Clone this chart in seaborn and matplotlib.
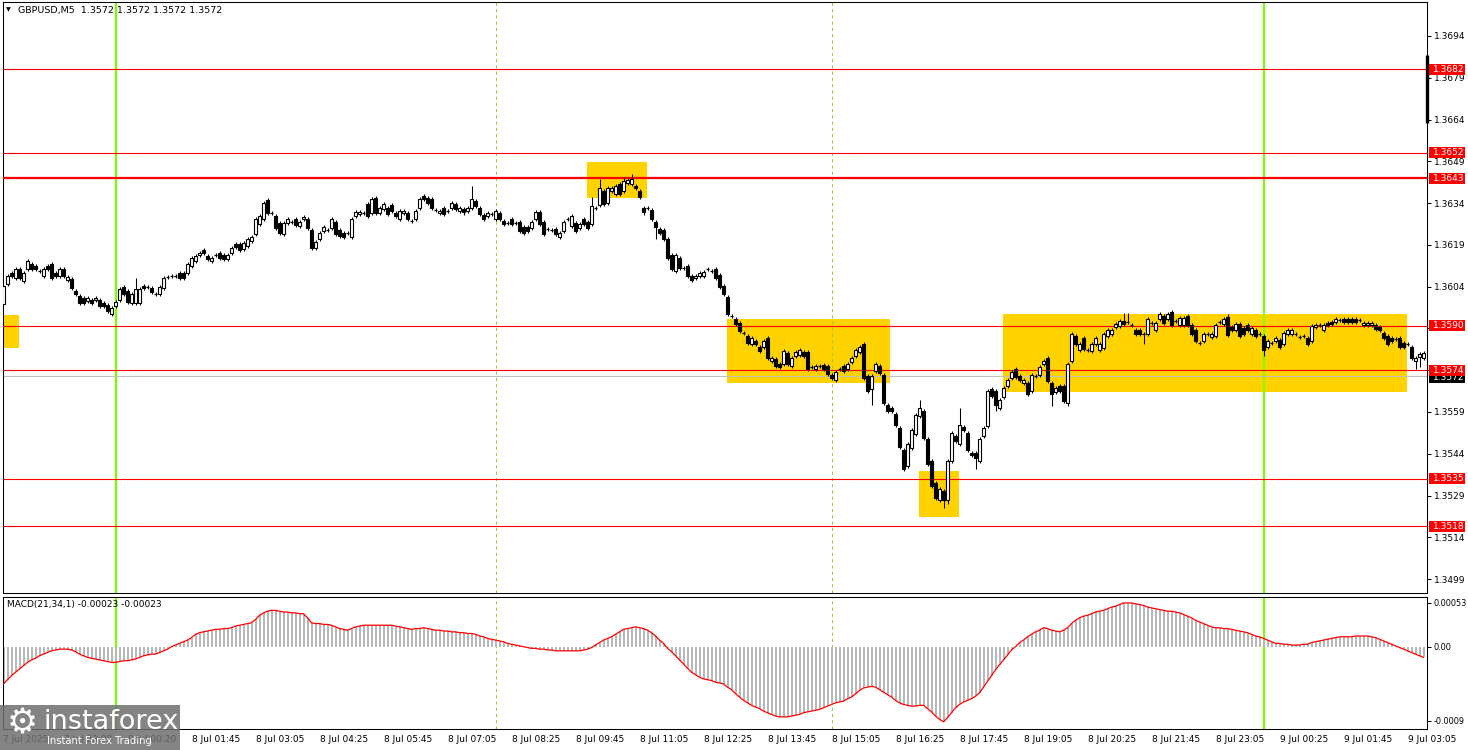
import numpy as np
import matplotlib
matplotlib.use("Agg")
import matplotlib.pyplot as plt
import seaborn as sns
from matplotlib.patches import Rectangle
from matplotlib.transforms import blended_transform_factory

# ---------------- data (prices in pips above 1.3500) ----------------
open_pips = [
    97.7, 104.9, 108.9, 107.1, 110.3, 106.0, 110.3, 112.1, 111.4, 109.6,
    107.8, 111.4, 112.1, 108.9, 107.8, 110.3, 106.3, 106.7, 102.4, 100.6,
    99.9, 98.8, 99.2, 99.2, 99.2, 98.1, 97.4, 94.1, 97.0, 99.2,
    103.8, 102.4, 98.1, 98.1, 98.1, 104.2, 103.8, 103.5, 101.3, 101.3,
    103.5, 107.4, 107.8, 107.8, 108.9, 108.9, 108.9, 111.4, 113.2, 115.3,
    117.1, 115.0, 113.2, 115.3, 116.0, 115.3, 113.9, 116.0, 119.3, 119.3,
    117.5, 118.5, 120.3, 122.9, 126.4, 128.2, 135.1, 130.4, 129.3, 126.8,
    122.9, 126.8, 127.2, 128.2, 125.7, 128.2, 128.2, 124.3, 117.8, 121.1,
    123.9, 124.3, 125.0, 127.2, 124.3, 123.2, 123.2, 121.8, 129.3, 130.0,
    130.4, 133.6, 130.4, 135.8, 130.4, 131.8, 132.2, 133.3, 130.4, 128.2,
    130.4, 130.4, 127.5, 128.2, 132.2, 136.5, 135.8, 135.4, 131.5, 130.4,
    132.2, 131.1, 132.2, 133.6, 131.1, 131.8, 131.1, 132.2, 134.7, 132.2,
    129.7, 129.3, 130.0, 128.2, 130.4, 127.5, 126.8, 128.2, 126.8, 127.2,
    125.4, 125.4, 125.0, 128.2, 130.7, 127.2, 124.6, 124.3, 124.6, 121.8,
    123.9, 128.2, 125.7, 126.8, 125.0, 128.2, 127.2, 126.4, 132.2, 133.3,
    138.3, 134.0, 138.3, 137.2, 140.8, 138.3, 141.2, 140.8, 140.1, 138.3,
    132.2, 132.2, 131.5, 127.2, 124.6, 124.3, 121.1, 115.3, 109.6, 114.2,
    110.6, 111.4, 107.8, 107.1, 107.8, 107.8, 110.3, 109.6, 110.3, 108.2,
    104.2, 100.2, 93.4, 92.3, 90.9, 87.3, 86.2, 83.4, 84.4, 82.3,
    82.3, 85.5, 77.3, 78.0, 76.2, 76.2, 80.1, 75.5, 79.1, 79.4,
    80.5, 80.5, 75.1, 74.4, 75.5, 75.8, 75.5, 72.2, 70.4, 74.4,
    75.5, 74.4, 76.9, 79.1, 80.5, 83.4, 71.9, 67.2, 73.7, 75.5,
    72.2, 61.5, 60.4, 58.2, 53.2, 45.3, 39.6, 46.0, 51.1, 57.5,
    59.3, 49.2, 41.4, 33.5, 27.4, 30.6, 27.4, 41.4, 50.3, 47.5,
    53.6, 51.4, 44.2, 44.2, 41.4, 50.3, 53.9, 67.2, 66.5, 60.4,
    64.3, 68.3, 71.2, 74.4, 71.9, 69.4, 69.4, 66.5, 71.9, 72.2,
    76.2, 78.3, 69.4, 66.1, 68.3, 68.3, 62.2, 77.3, 86.2, 81.2,
    85.5, 81.2, 80.9, 83.4, 81.2, 81.9, 86.2, 87.0, 89.5, 89.8,
    91.6, 91.3, 90.2, 88.4, 88.4, 87.0, 87.0, 90.9, 88.4, 92.3,
    93.4, 92.3, 94.8, 91.6, 90.2, 90.2, 93.4, 90.2, 88.4, 83.7,
    84.4, 87.0, 85.9, 86.2, 91.3, 90.5, 93.1, 89.5, 88.4, 90.5,
    89.1, 90.2, 87.0, 88.4, 87.0, 86.2, 82.3, 83.7, 84.4, 84.8,
    83.4, 87.0, 87.0, 87.0, 85.9, 86.2, 85.5, 84.4, 89.5, 90.2,
    88.4, 90.9, 91.3, 91.3, 92.0, 92.3, 92.3, 92.3, 92.3, 92.0,
    90.2, 90.2, 90.2, 90.2, 89.5, 87.3, 86.2, 85.5, 85.2, 85.5,
    83.7, 83.4, 82.3, 77.3, 78.7, 78.3,
]
close_pips = [
    104.2, 107.8, 107.8, 110.3, 107.1, 108.9, 113.2, 110.3, 110.3, 109.6,
    110.3, 110.3, 107.1, 107.8, 110.3, 107.8, 107.4, 103.5, 101.3, 98.1,
    98.1, 99.9, 98.1, 99.9, 97.0, 97.0, 95.2, 96.3, 98.4, 103.1,
    101.3, 98.4, 101.3, 103.1, 103.1, 103.5, 103.8, 102.0, 101.3, 103.8,
    107.1, 107.4, 107.8, 107.8, 107.1, 107.1, 112.1, 114.2, 115.0, 116.0,
    116.0, 113.9, 114.2, 115.3, 114.2, 113.9, 115.3, 117.8, 118.2, 117.1,
    119.6, 121.1, 121.8, 128.2, 129.3, 134.0, 130.4, 130.4, 125.0, 123.2,
    126.8, 128.2, 127.2, 126.1, 127.2, 128.9, 125.0, 117.8, 120.0, 123.2,
    125.4, 124.3, 128.2, 122.9, 122.1, 121.8, 123.2, 128.2, 130.7, 130.7,
    130.4, 129.3, 135.4, 130.4, 132.2, 133.6, 130.0, 131.1, 129.3, 131.1,
    131.1, 128.2, 127.5, 131.1, 135.4, 135.4, 134.0, 132.2, 131.5, 131.1,
    130.0, 131.1, 134.0, 131.8, 132.2, 130.7, 132.2, 135.4, 132.9, 130.0,
    128.2, 130.4, 130.0, 131.1, 128.2, 126.4, 126.8, 126.4, 126.8, 123.9,
    123.2, 123.9, 127.2, 130.7, 126.4, 122.9, 124.6, 124.3, 122.9, 123.2,
    127.2, 128.2, 129.3, 123.9, 126.4, 126.4, 125.0, 132.9, 132.2, 139.4,
    133.6, 139.4, 139.4, 140.1, 137.2, 141.9, 142.3, 142.6, 139.4, 136.1,
    130.7, 132.2, 128.2, 125.4, 123.2, 121.1, 114.2, 110.3, 115.3, 110.6,
    110.6, 107.8, 106.3, 107.8, 108.9, 109.2, 110.3, 109.6, 107.1, 103.8,
    101.3, 94.1, 93.4, 90.5, 88.0, 87.3, 83.7, 85.5, 83.4, 80.9,
    84.4, 78.3, 78.3, 75.5, 75.1, 80.9, 76.2, 78.3, 80.5, 81.2,
    79.1, 74.4, 75.1, 75.5, 75.5, 74.4, 72.6, 71.2, 73.3, 74.4,
    73.7, 76.2, 78.3, 81.2, 82.3, 71.2, 66.5, 71.9, 76.2, 73.0,
    62.2, 59.3, 59.3, 54.3, 46.4, 38.5, 47.5, 52.5, 57.9, 60.4,
    49.6, 40.3, 32.4, 28.1, 31.3, 27.4, 41.4, 51.4, 48.5, 54.3,
    52.5, 45.3, 43.5, 42.4, 49.2, 53.2, 66.5, 64.7, 61.5, 63.3,
    67.6, 70.4, 73.3, 71.5, 70.4, 70.4, 65.4, 72.2, 71.9, 75.1,
    77.3, 70.1, 65.4, 67.6, 66.5, 62.9, 76.2, 87.0, 83.4, 83.4,
    81.6, 81.2, 83.4, 85.5, 83.4, 87.0, 88.4, 88.4, 90.5, 91.6,
    90.5, 91.3, 90.2, 87.0, 87.0, 87.0, 92.3, 90.9, 90.9, 94.1,
    90.9, 94.1, 90.2, 91.6, 92.7, 92.7, 90.2, 87.0, 84.4, 83.7,
    87.0, 87.0, 87.0, 90.2, 91.3, 92.3, 86.6, 88.4, 90.5, 86.2,
    87.0, 88.4, 89.1, 86.2, 87.0, 81.2, 84.4, 83.7, 85.5, 82.3,
    87.3, 88.4, 88.4, 87.0, 85.9, 86.2, 83.4, 89.8, 90.2, 90.2,
    90.2, 90.2, 90.5, 92.3, 92.0, 91.3, 91.3, 91.3, 91.3, 92.0,
    90.9, 90.9, 90.9, 88.8, 88.4, 85.5, 83.4, 84.4, 85.2, 82.3,
    82.3, 83.4, 78.3, 78.3, 79.8, 80.1,
]
# long wicks (pips above 1.3500), candle index -> extreme
wick_high_pips = {33: 107.1, 117: 140.1, 147: 136.1, 149: 142.6, 155: 143.5,
                  157: 144.4, 229: 63.3, 239: 60.4, 280: 94.5, 281: 94.5, 306: 94.1}
wick_low_pips = {163: 121.1, 217: 61.5, 235: 24.5, 236: 25.9, 243: 38.5, 248: 59.3,
                 262: 61.2, 266: 61.2, 285: 83.4, 315: 79.1, 353: 74.4, 354: 75.1}

# MACD(21,34,1) main values, in units of 1e-5
macd_e5 = [
    -45, -40, -35, -31, -27, -23, -19, -16, -14, -11,
    -9, -7, -5, -4, -3, -3, -3, -4, -6, -9,
    -11, -13, -14, -15, -16, -17, -18, -19, -19, -18,
    -17, -17, -16, -15, -13, -11, -10, -9, -9, -7,
    -5, -3, 0, 2, 4, 6, 8, 11, 15, 17,
    18, 19, 20, 21, 21, 22, 22, 23, 25, 26,
    27, 28, 29, 33, 38, 41, 43, 44, 44, 43,
    42, 42, 41, 41, 40, 40, 35, 29, 28, 28,
    27, 27, 26, 24, 22, 21, 20, 22, 24, 25,
    26, 26, 26, 26, 26, 26, 26, 26, 25, 24,
    23, 22, 21, 22, 22, 23, 22, 21, 20, 20,
    19, 19, 18, 18, 17, 17, 16, 16, 15, 13,
    12, 10, 9, 8, 7, 6, 4, 3, 2, 1,
    0, -1, -2, -2, -3, -3, -4, -4, -5, -5,
    -5, -5, -5, -5, -5, -4, -3, -1, 2, 5,
    8, 10, 12, 15, 18, 21, 22, 23, 24, 23,
    22, 20, 17, 13, 8, 4, -2, -6, -11, -16,
    -21, -26, -31, -34, -37, -39, -40, -41, -43, -44,
    -45, -49, -52, -57, -61, -65, -68, -71, -73, -75,
    -78, -80, -82, -84, -85, -85, -85, -84, -83, -82,
    -80, -79, -78, -77, -76, -74, -72, -70, -68, -67,
    -66, -63, -61, -57, -53, -50, -49, -48, -49, -52,
    -55, -58, -61, -65, -68, -70, -71, -72, -72, -71,
    -71, -75, -79, -84, -88, -91, -86, -80, -74, -70,
    -67, -65, -63, -60, -56, -49, -42, -35, -28, -22,
    -16, -10, -4, 0, 5, 8, 12, 15, 18, 20,
    23, 22, 20, 19, 18, 20, 23, 28, 32, 35,
    37, 38, 40, 42, 43, 44, 46, 48, 49, 51,
    53, 53, 53, 52, 51, 50, 48, 47, 46, 45,
    44, 43, 43, 42, 41, 39, 37, 35, 32, 30,
    28, 26, 24, 23, 23, 22, 22, 21, 20, 19,
    18, 17, 15, 13, 12, 10, 8, 6, 4, 4,
    3, 3, 2, 2, 2, 3, 3, 5, 6, 7,
    8, 9, 10, 11, 12, 12, 12, 12, 13, 13,
    13, 13, 12, 11, 9, 7, 5, 3, 1, -1,
    -3, -5, -7, -9, -11, -13,
]

levels = [1.3682, 1.3652, 1.3643, 1.3590, 1.3574, 1.3535, 1.3518]
bid_price = 1.3572
price_ticks = [1.3694, 1.3679, 1.3664, 1.3649, 1.3634, 1.3619, 1.3604, 1.3589,
               1.3574, 1.3559, 1.3544, 1.3529, 1.3514, 1.3499]
hidden_ticks = [1.3589, 1.3574]   # covered by the level labels
macd_ticks = [0.00053, 0.0, -0.0009]
macd_tick_labels = ["0.00053", "0.00", "-0.0009"]
# yellow zones: (first candle, last candle, low price, high price)
zones = [(-0.9, 3.9, 1.35819, 1.35938), (145.9, 160.9, 1.36358, 1.36487),
         (180.9, 221.6, 1.35694, 1.35923), (228.9, 238.9, 1.35213, 1.35378),
         (249.9, 350.9, 1.35661, 1.35941)]
green_lines = [28, 315]
dashed_lines = [123, 207]
range_bar = (1.36629, 1.36872)
time_ticks = [0, 15, 31] + [47 + 16 * i for i in range(20)]
time_labels = ["7 Jul 2025", "7 Jul 23:00", "8 Jul 00:20", "8 Jul 01:45", "8 Jul 03:05",
               "8 Jul 04:25", "8 Jul 05:45", "8 Jul 07:05", "8 Jul 08:25", "8 Jul 09:45",
               "8 Jul 11:05", "8 Jul 12:25", "8 Jul 13:45", "8 Jul 15:05", "8 Jul 16:25",
               "8 Jul 17:45", "8 Jul 19:05", "8 Jul 20:25", "8 Jul 21:45", "8 Jul 23:05",
               "9 Jul 00:25", "9 Jul 01:45", "9 Jul 03:05"]

opens = 1.35 + np.array(open_pips) / 1e4
closes = 1.35 + np.array(close_pips) / 1e4
macd = np.array(macd_e5) * 1e-5
n = len(opens)
assert len(closes) == n and len(macd) == n, (len(opens), len(closes), len(macd))
k = np.arange(n)

wick = 0.00008
highs = np.maximum(opens, closes) + wick
lows = np.minimum(opens, closes) - wick
for i, v in wick_high_pips.items():
    highs[i] = max(highs[i], 1.35 + v / 1e4)
for i, v in wick_low_pips.items():
    lows[i] = min(lows[i], 1.35 + v / 1e4)

# ---------------- figure ----------------
sns.set_style("white")
plt.rcParams["font.family"] = ["DejaVu Sans"]
plt.rcParams["axes.linewidth"] = 0.75

W, H = 1468, 750
fig = plt.figure(figsize=(W / 100, H / 100), dpi=100, facecolor="white")


def rect(l, t, r, b):
    return [l / W, 1 - b / H, (r - l) / W, (b - t) / H]


ax = fig.add_axes(rect(3, 2, 1427, 593))
ax2 = fig.add_axes(rect(3, 597, 1427, 729), sharex=ax)
XL = (-0.125, 355.875)
YL = (1.34940, 1.37062)
FS = 6.5

# zones
for (a, b, lo, hi) in zones:
    ax.add_patch(Rectangle((a, lo), b - a, hi - lo, facecolor="#FFD200",
                           edgecolor="none", zorder=1))
# vertical lines
for g in green_lines:
    ax.axvline(g, color="#7CFC00", lw=1.6, zorder=2)
    ax2.axvline(g, color="#7CFC00", lw=1.6, zorder=1)
for d in dashed_lines:
    ax.axvline(d, color="#9ACD32", lw=0.75, ls=(0, (3, 3)), zorder=2)
    ax2.axvline(d, color="#9ACD32", lw=0.75, ls=(0, (3, 3)), zorder=1)

# horizontal levels
ax.axhline(bid_price, color="#c0c0c0", lw=0.75, zorder=2)
for lv in levels:
    ax.axhline(lv, color="red", lw=1.6 if lv == 1.3643 else 0.8, zorder=3)

# candles
ax.vlines(k, lows, highs, color="black", lw=0.75, zorder=4)
up = closes > opens
dn = closes < opens
fl = closes == opens
bw = 0.68
ax.bar(k[up], (closes - opens)[up], bottom=opens[up], width=bw, color="white",
       edgecolor="black", linewidth=0.8, zorder=5)
ax.bar(k[dn], (closes - opens)[dn], bottom=opens[dn], width=bw, color="black",
       edgecolor="black", linewidth=0.8, zorder=5)
ax.hlines(closes[fl], k[fl] - 0.4, k[fl] + 0.4, color="black", lw=0.9, zorder=5)

ax.set_xlim(*XL)
ax.set_ylim(*YL)
ax.yaxis.tick_right()
ax.set_yticks(price_ticks)
ax.set_yticklabels(["" if t in hidden_ticks else f"{t:.4f}" for t in price_ticks])
ax.tick_params(axis="y", direction="out", length=3, width=0.75, pad=2,
               labelsize=FS, colors="black")
ax.tick_params(axis="x", bottom=False, labelbottom=False)
for s in ax.spines.values():
    s.set_color("black")
    s.set_linewidth(0.75)

# right-side price labels
blend = blended_transform_factory(ax.transAxes, ax.transData)
px = (YL[1] - YL[0]) / 591
box_w = 36 / 1424
box_h = 11 * px
# bid label sits just under the 1.3574 level label
ax.add_patch(Rectangle((1.0014, bid_price - 7.5 * px), box_w, box_h, transform=blend,
                       facecolor="black", edgecolor="none", clip_on=False, zorder=10))
ax.text(1.0042, bid_price - 2.2 * px, f"{bid_price:.4f}", transform=blend, color="white",
        fontsize=FS, va="center", ha="left", clip_on=False, zorder=11)
for lv in levels:
    ax.add_patch(Rectangle((1.0014, lv - box_h / 2), box_w, box_h, transform=blend,
                           facecolor="red", edgecolor="none", clip_on=False, zorder=12))
    ax.text(1.0042, lv, f"{lv:.4f}", transform=blend, color="white", fontsize=FS,
            va="center", ha="left", clip_on=False, zorder=13)
# range bar at right edge
ax.vlines(XL[1], range_bar[0], range_bar[1], color="black", lw=2.4, clip_on=False, zorder=9)

# ---------------- MACD panel ----------------
ax2.bar(k, macd, width=0.5, color="#b8b8b8", linewidth=0, zorder=2)
sns.lineplot(x=k, y=macd, ax=ax2, color="red", lw=0.9, zorder=3)
ax2.set_ylim(-0.000997, 0.000602)
ax2.yaxis.tick_right()
ax2.set_yticks(macd_ticks)
ax2.set_yticklabels(macd_tick_labels)
ax2.tick_params(axis="y", direction="out", length=3, width=0.75, pad=1.5,
                labelsize=5.9, colors="black")
ax2.set_xticks(time_ticks)
ax2.set_xticklabels(time_labels, ha="left")
ax2.tick_params(axis="x", direction="out", length=3, width=0.75, pad=1.5,
                labelsize=FS, colors="black")
ax2.set_xlim(*XL)
ax2.set_xlabel("")
ax2.set_ylabel("")
for s in ax2.spines.values():
    s.set_color("black")
    s.set_linewidth(0.75)
ax2.text(4 / 1424, 1 - 8 / 132, "MACD(21,34,1) -0.00023 -0.00023", transform=ax2.transAxes,
         fontsize=FS, va="center", ha="left", color="black")

# ---------------- header ----------------
fig.text(6 / W, 1 - 10 / H, "\u25bc", fontsize=4.5, va="center", ha="left", color="black")
fig.text(18 / W, 1 - 10 / H, "GBPUSD,M5  1.3572 1.3572 1.3572 1.3572", fontsize=6.8,
         va="center", ha="left", color="black")

# ---------------- watermark logo ----------------
fig.add_artist(Rectangle((0, 0), 180 / W, 45 / H, transform=fig.transFigure,
                         facecolor="#6f6f6f", alpha=0.85, edgecolor="none", zorder=20))
fig.text(22 / W, 1 - 724 / H, "\u2699", fontsize=25, color="white", ha="center",
         va="center", zorder=21)
fig.text(43 / W, 1 - 722 / H, "instaforex", fontsize=19.5, color="white", ha="left",
         va="center", zorder=21)
fig.text(47 / W, 1 - 741 / H, "Instant Forex Trading", fontsize=7.2, color="white",
         ha="left", va="center", zorder=21)

fig.savefig("out.png", dpi=100, facecolor="white")
